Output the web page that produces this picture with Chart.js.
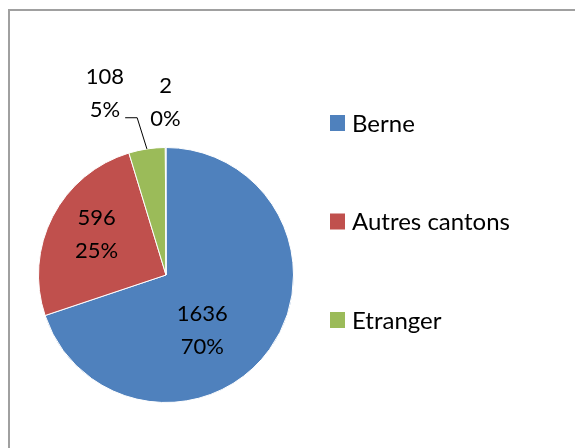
<!DOCTYPE html>
<html lang="fr">
<head>
<meta charset="UTF-8">
<title>Provenance</title>
<script src="https://cdn.jsdelivr.net/npm/chart.js"></script>
<style>
  html, body { margin: 0; padding: 0; background: #fff; }
  canvas { display: block; }
</style>
</head>
<body>
<canvas id="pieChart" width="575" height="448"></canvas>
<script>
  // data
  const categories = ["Berne", "Autres cantons", "Etranger", ""];
  const counts = [1636, 596, 108, 2];
  const sliceColors = ["#4F81BD", "#C0504D", "#9BBB59", "#8064A2"];

  const LABEL_FONT = "22px Lato";
  const LEGEND_FONT = "24px Lato";

  // label placement relative to each slice: extra turn (deg) and radius factor
  const labelPlace = [
    { turn: 21, r: 0.52 },
    { turn: 3, r: 0.63 },
    { turn: -10, r: 1.5, leader: true },
    { turn: 0, r: 1.35 }
  ];

  const frame = {
    id: "frame",
    beforeDraw(chart) {
      const ctx = chart.ctx;
      ctx.save();
      ctx.fillStyle = "#fff";
      ctx.fillRect(0, 0, chart.width, chart.height);
      ctx.strokeStyle = "#a0a0a0";
      ctx.lineWidth = 2;
      ctx.strokeRect(9, 10, 620, 500);
      ctx.restore();
    }
  };

  const sliceLabels = {
    id: "sliceLabels",
    afterDatasetsDraw(chart) {
      const ctx = chart.ctx;
      const values = chart.data.datasets[0].data;
      const total = values.reduce((a, b) => a + b, 0);
      const meta = chart.getDatasetMeta(0);
      ctx.save();
      ctx.font = LABEL_FONT;
      ctx.fillStyle = "#000";
      ctx.textAlign = "center";
      ctx.textBaseline = "middle";
      meta.data.forEach((arc, i) => {
        const p = arc.getProps(["x", "y", "startAngle", "endAngle", "outerRadius"], true);
        const mid = (p.startAngle + p.endAngle) / 2;
        const place = labelPlace[i];
        const a = mid + place.turn * Math.PI / 180;
        const lx = p.x + Math.cos(a) * p.outerRadius * place.r;
        const ly = p.y + Math.sin(a) * p.outerRadius * place.r;
        const pct = Math.round(values[i] / total * 100) + "%";
        ctx.fillText(String(values[i]), lx, ly - 16.5);
        ctx.fillText(pct, lx, ly + 16.5);
        if (place.leader) {
          const w = ctx.measureText(pct).width;
          const sx = lx + w / 2 + 5;
          const sy = ly + 24;
          const ex = p.x + Math.cos(mid) * p.outerRadius;
          const ey = p.y + Math.sin(mid) * p.outerRadius;
          ctx.beginPath();
          ctx.strokeStyle = "#000";
          ctx.lineWidth = 1;
          ctx.moveTo(sx, sy);
          ctx.lineTo(sx + 12, sy);
          ctx.lineTo(ex, ey);
          ctx.stroke();
        }
      });
      ctx.restore();
    }
  };

  const sideLegend = {
    id: "sideLegend",
    afterDraw(chart) {
      const ctx = chart.ctx;
      const colors = chart.data.datasets[0].backgroundColor;
      ctx.save();
      ctx.font = LEGEND_FONT;
      ctx.textAlign = "left";
      ctx.textBaseline = "middle";
      let y = 123;
      chart.data.labels.forEach((name, i) => {
        if (!name) return;
        ctx.fillStyle = colors[i];
        ctx.fillRect(330, y - 8, 15, 16);
        ctx.fillStyle = "#000";
        ctx.fillText(name, 352, y + 1);
        y += 98.5;
      });
      ctx.restore();
    }
  };

  new Chart(document.getElementById("pieChart"), {
    type: "pie",
    data: {
      labels: categories,
      datasets: [{
        data: counts,
        backgroundColor: sliceColors,
        borderColor: "#fff",
        borderWidth: 1
      }]
    },
    options: {
      responsive: false,
      animation: false,
      devicePixelRatio: 1,
      layout: { padding: { left: 38, right: 281, top: 147, bottom: 45 } },
      plugins: {
        legend: { display: false },
        tooltip: { enabled: false }
      }
    },
    plugins: [frame, sliceLabels, sideLegend]
  });
</script>
</body>
</html>
